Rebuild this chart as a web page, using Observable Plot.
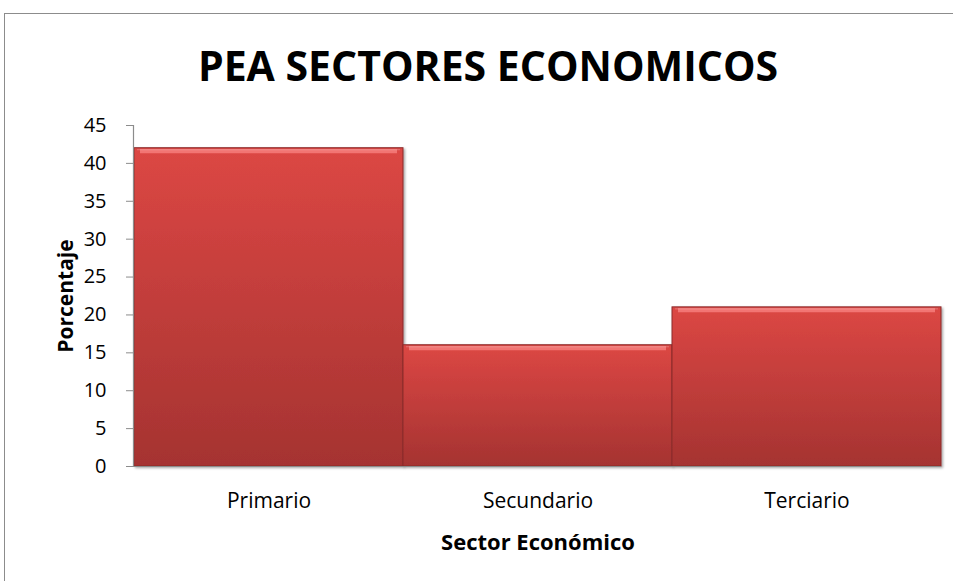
<!DOCTYPE html>
<html>
<head>
<meta charset="utf-8">
<script src="https://cdn.jsdelivr.net/npm/d3@7"></script>
<script src="https://cdn.jsdelivr.net/npm/@observablehq/plot@0.6"></script>
<style>
  html, body { margin: 0; padding: 0; background: #fff; }
  body { width: 953px; height: 581px; position: relative; overflow: hidden; font-family: "Open Sans", sans-serif; }
  #frame { position: absolute; left: 4px; top: 13px; width: 1000px; height: 700px; border: 1px solid #8c8c8c; box-sizing: border-box; }
  #title { position: absolute; left: 0; width: 976px; top: 39px; text-align: center; font-family: "Open Sans", sans-serif; font-weight: 700; font-size: 41px; line-height: 52px; color: #000; }
  #chart { position: absolute; left: 0; top: 100px; }
</style>
</head>
<body>
<div id="frame"></div>
<div id="title">PEA SECTORES ECONOMICOS</div>
<div id="chart"></div>
<script>
const sectors = ["Primario", "Secundario", "Terciario"];
const values = [42, 16, 21];
const yTicks = [0, 5, 10, 15, 20, 25, 30, 35, 40, 45];
const xLabel = "Sector Económico";
const yLabel = "Porcentaje";

const data = sectors.map((s, i) => ({sector: s, value: values[i]}));

const defs = () => {
  const d = d3.create("svg:defs");
  const g = d.append("linearGradient").attr("id", "barGrad").attr("x1", 0).attr("y1", 0).attr("x2", 0).attr("y2", 1);
  g.append("stop").attr("offset", "0%").attr("stop-color", "#dc4744");
  g.append("stop").attr("offset", "100%").attr("stop-color", "#a53331");
  const f = d.append("filter").attr("id", "shadow").attr("x", "-5%").attr("y", "-5%").attr("width", "115%").attr("height", "115%");
  f.append("feDropShadow").attr("dx", 1.5).attr("dy", 1.5).attr("stdDeviation", 1.2).attr("flood-color", "#000").attr("flood-opacity", 0.35);
  return d.node();
};

const chart = Plot.plot({
  width: 953,
  height: 481,
  marginLeft: 134,
  marginRight: 12,
  marginTop: 25,
  marginBottom: 115,
  style: { fontFamily: "Open Sans, sans-serif", fontSize: "20px", color: "#000", background: "transparent", overflow: "visible" },
  x: { domain: sectors, padding: 0, label: null },
  y: { domain: [0, 45], label: null },
  marks: [
    defs,
    Plot.barY(data, { x: "sector", y: "value", fill: "url(#barGrad)", stroke: "#8b2b29", strokeWidth: 1, render: (i, s, v, d, c, next) => {
      const g = next(i, s, v, d, c);
      d3.select(g).selectAll("rect").attr("filter", "url(#shadow)");
      return g;
    }}),
    Plot.tickY(data, { x: "sector", y: "value", stroke: "#f27573", strokeWidth: 4, dy: 3, inset: 6 }),
    Plot.tickY(data, { x: "sector", y: "value", stroke: "#ffffff", strokeOpacity: 0.25, strokeWidth: 1, dy: 1.5, inset: 3 }),
    Plot.axisY({ ticks: yTicks, tickSize: 8, tickPadding: 20, stroke: "#8c8c8c", fontSize: 20, label: yLabel, labelAnchor: "center", labelArrow: "none", labelOffset: 76 }),
    Plot.axisX({ tickSize: 0, tickPadding: 27, fontSize: 21, label: xLabel, labelAnchor: "center", labelArrow: "none", labelOffset: 83 }),
    Plot.ruleY([0], { stroke: "#8c8c8c", strokeWidth: 1.2 })
  ]
});

const svg = d3.select(chart);
svg.selectAll("[aria-label='y-axis label'] text").style("font-weight", "700").style("font-size", "21px");
svg.selectAll("[aria-label='x-axis label'] text").style("font-weight", "700").style("font-size", "22px");
svg.append("line").attr("x1", 133.5).attr("x2", 133.5).attr("y1", 25).attr("y2", 366).attr("stroke", "#8c8c8c").attr("stroke-width", 1.2);
document.getElementById("chart").appendChild(chart);
</script>
</body>
</html>
